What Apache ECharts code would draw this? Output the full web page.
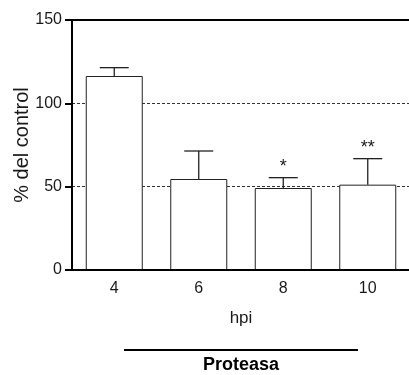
<!DOCTYPE html>
<html><head><meta charset="utf-8">
<script src="https://cdn.jsdelivr.net/npm/echarts@6/dist/echarts.min.js"></script>
<style>html,body{margin:0;padding:0;background:#fff}#c{width:409px;height:375px}</style>
</head><body><div id="c"></div>
<script>
var categories = ['4', '6', '8', '10'];
var means = [116.4, 54.6, 49.2, 51.2];
var errUpper = [5.0, 16.8, 6.2, 15.6];
var stars = ['', '', '*', '**'];
var yTicks = [0, 50, 100, 150];

var chart = echarts.init(document.getElementById('c'));
var font = 'Liberation Sans, Arial, sans-serif';
var ink = '#1a1a1a';

var errData = categories.map(function (c, i) { return [i, means[i], means[i] + errUpper[i], stars[i]]; });

chart.setOption({
  animation: false,
  grid: { left: 72, top: 20, width: 338, bottom: 105, containLabel: false, outerBoundsMode: 'none' },
  xAxis: [{
    type: 'category', data: categories, z: 10,
    axisLine: { lineStyle: { color: '#000', width: 2 } },
    axisTick: { alignWithLabel: true, length: 7, lineStyle: { color: '#000', width: 2 } },
    axisLabel: { color: ink, fontSize: 16, fontFamily: font, margin: 11 },
    name: 'hpi', nameLocation: 'middle', nameGap: 40, nameMoveOverlap: false,
    nameTextStyle: { color: ink, fontSize: 17, fontFamily: font }
  }, {
    type: 'category', data: categories, position: 'top', z: 10,
    axisLine: { show: true, onZero: false, lineStyle: { color: '#000', width: 2 } },
    axisTick: { show: false }, axisLabel: { show: false }
  }],
  yAxis: [{
    type: 'value', min: 0, max: 150, interval: 50, z: 10,
    axisLine: { show: true, lineStyle: { color: '#000', width: 2 } },
    axisTick: { show: true, length: 7, lineStyle: { color: '#000', width: 2 } },
    axisLabel: { color: ink, fontSize: 16, fontFamily: font, margin: 10,
      formatter: function (v) { return yTicks.indexOf(v) >= 0 ? String(v) : ''; } },
    splitLine: { show: false },
    name: '% del control', nameLocation: 'middle', nameGap: 40, nameRotate: 90, nameMoveOverlap: false,
    nameTextStyle: { color: ink, fontSize: 20, fontFamily: font }
  }, {
    type: 'value', min: 0, max: 150, interval: 50, z: 0,
    axisLine: { show: false }, axisTick: { show: false }, axisLabel: { show: false },
    splitLine: { show: true, lineStyle: { color: '#333', width: 1, type: [3, 2] } }
  }],
  series: [{
    type: 'bar', data: means, barWidth: 57, z: 2,
    itemStyle: { color: '#fff', borderColor: '#222', borderWidth: 1 }
  }, {
    type: 'custom', data: errData, z: 3,
    renderItem: function (params, api) {
      var x = api.value(0);
      var top = api.coord([x, api.value(2)]);
      var base = api.coord([x, api.value(1)]);
      var hw = 14.5;
      var children = [
        { type: 'line', shape: { x1: top[0], y1: base[1], x2: top[0], y2: top[1] }, style: { stroke: '#222', lineWidth: 1.3 } },
        { type: 'line', shape: { x1: top[0] - hw, y1: top[1], x2: top[0] + hw, y2: top[1] }, style: { stroke: '#222', lineWidth: 1.3 } }
      ];
      var s = api.value(3);
      if (s) {
        children.push({ type: 'text', style: { text: s, x: top[0], y: top[1] - 2, textAlign: 'center', textVerticalAlign: 'bottom', fontSize: 18, fontFamily: font, fill: ink } });
      }
      return { type: 'group', children: children };
    }
  }],
  graphic: [
    { type: 'line', shape: { x1: 124, y1: 350, x2: 358, y2: 350 }, style: { stroke: '#000', lineWidth: 2 } },
    { type: 'text', style: { text: 'Proteasa', x: 241, y: 365, textAlign: 'center', textVerticalAlign: 'middle', fontSize: 18, fontWeight: 'bold', fontFamily: font, fill: '#000' } }
  ]
});
</script></body></html>
